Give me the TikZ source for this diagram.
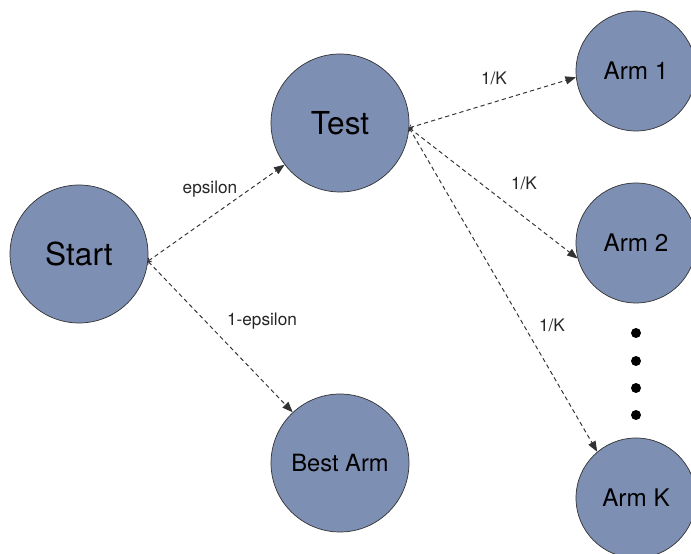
\documentclass[tikz,border=0pt]{standalone}
\usepackage{fontspec}
\setsansfont{TeX Gyre Heros}
\usepackage{tikz}
\usetikzlibrary{arrows.meta,shapes,positioning}
\definecolor{stateblue}{RGB}{126,143,180}
\definecolor{edgegray}{RGB}{50,50,50}
\tikzset{
    basic/.style   = {draw=black!80, circle, thin, fill=stateblue, inner sep=0pt, font=\sffamily},
    big state/.style  = {basic, minimum size=2.76cm, font=\sffamily\fontsize{18}{20}\selectfont},
    arm state/.style  = {basic, minimum size=2.4cm, font=\sffamily\fontsize{13.8}{15}\selectfont},
    best state/.style = {basic, minimum size=2.76cm, font=\sffamily\fontsize{13.5}{15}\selectfont},
    prob edge/.style  = {draw=edgegray, line width=0.55pt, dash pattern=on 2.4pt off 1.8pt,
                         {Straight Barb[length=1.2pt,width=3pt,line width=0.4pt]}-{Triangle[length=6pt,width=4.6pt]}},
    prob label/.style = {font=\sffamily\fontsize{9.8}{11}\selectfont, text=black!85},
    dot/.style = {circle, fill=black, inner sep=0pt, minimum size=0.2cm}
}

\begin{document}
\begin{tikzpicture}[x=0.02cm, y=-0.02cm]
    \useasboundingbox (0,0) rectangle (691,554);
    % states
    \node[big state]  (start) at (79,254)  {Start};
    \node[big state]  (test)  at (340,123) {Test};
    \node[best state] (best)  at (340,463) {Best Arm};
    \node[arm state]  (arm1)  at (636,71)  {Arm 1};
    \node[arm state]  (arm2)  at (636,243) {Arm 2};
    \node[arm state]  (armK)  at (636,498) {Arm K};
    \foreach \y [count=\i] in {333,361,388,415}
        \node[dot] (dot\i) at (636,\y) {};
    % transitions
    \draw[prob edge] (start.-6.5) -- (test.217);
    \draw[prob edge] (start.-6.5) -- (best.133);
    \draw[prob edge] (test.-4) -- (arm1.186);
    \draw[prob edge] (test.-4) -- (arm2.195);
    \draw[prob edge] (test.-4) -- (armK.130);
    % probabilities
    \node[prob label] (p-eps)  at (210,189) {epsilon};
    \node[prob label] (p-neps) at (262,321) {1-epsilon};
    \node[prob label] (p-arm1) at (494,78)  {1/K};
    \node[prob label] (p-arm2) at (524,183) {1/K};
    \node[prob label] (p-armK) at (552,325) {1/K};
\end{tikzpicture}
\end{document}
